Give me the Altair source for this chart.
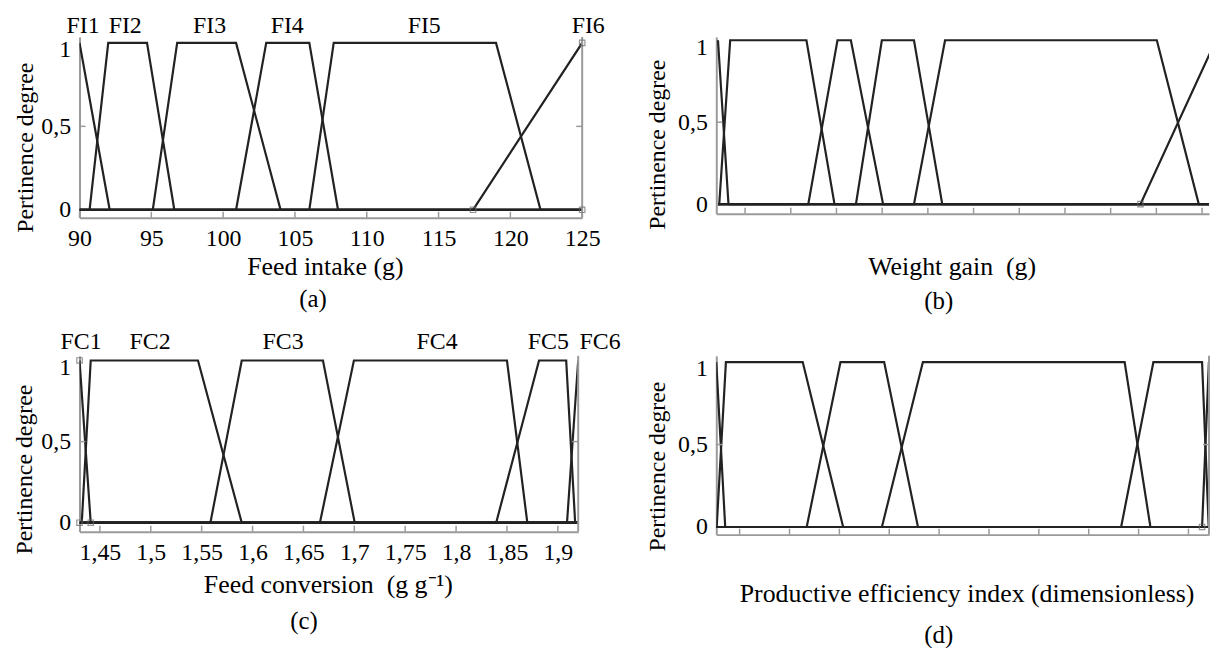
import altair as alt
import pandas as pd

FONT = "Liberation Serif"
LINE = "#222222"
AXIS = "#9a9a9a"

# ---------------- (a) Feed intake (g) ----------------
a_domain = [90, 125]
a_ticks = [90, 95, 100, 105, 110, 115, 120, 125]
a_names = ["FI1", "FI2", "FI3", "FI4", "FI5", "FI6"]
a_label_x = [90.25, 93.18, 99.06, 104.46, 114.0, 125.42]
a_mf = [
    [90.0, 90.0, 90.0, 92.1],
    [90.7, 92.0, 94.7, 96.6],
    [95.1, 96.8, 100.9, 104.0],
    [100.9, 103.0, 106.0, 108.0],
    [106.0, 107.7, 119.0, 122.1],
    [117.4, 125.0, 125.0, 125.0],
]
a_mark_x = [117.4, 125.0, 125.0]
a_mark_y = [0, 0, 1]

# ---------------- (b) Weight gain (g) — unlabeled axis (tick units) ----------------
b_domain = [-0.63, 10.152]
b_range = [-0.593, 10.304]
b_ticks = [0, 1, 2, 3, 4, 5, 6, 7, 8, 9, 10]
b_mf = [
    [-0.593, -0.593, -0.593, -0.363],
    [-0.565, -0.326, 1.343, 1.957],
    [1.383, 2.022, 2.315, 3.02],
    [2.426, 2.993, 3.696, 4.315],
    [3.696, 4.376, 9.01, 9.928],
    [8.652, 10.304, 10.304, 10.304],
]
b_mark_x = [8.652]
b_mark_y = [0]

# ---------------- (c) Feed conversion (g g-1) ----------------
c_domain = [1.43, 1.92]
c_ticks = [1.45, 1.5, 1.55, 1.6, 1.65, 1.7, 1.75, 1.8, 1.85, 1.9]
c_names = ["FC1", "FC2", "FC3", "FC4", "FC5", "FC6"]
c_label_x = [1.4315, 1.4993, 1.630, 1.7814, 1.8907, 1.9415]
c_mf = [
    [1.43, 1.43, 1.43, 1.441],
    [1.4322, 1.441, 1.5464, 1.5894],
    [1.5586, 1.5894, 1.6692, 1.7004],
    [1.6662, 1.6996, 1.850, 1.870],
    [1.8394, 1.8815, 1.9082, 1.917],
    [1.909, 1.92, 1.92, 1.92],
]
c_mark_x = [1.43, 1.43, 1.441]
c_mark_y = [1, 0, 0]

# ---------------- (d) Productive efficiency index — unlabeled axis (tick units) ----------------
d_domain = [-0.468, 9.412]
d_range = [-0.468, 9.41]
d_ticks = [0, 1, 2, 3, 4, 5, 6, 7, 8, 9]
d_mf = [
    [-0.468, -0.468, -0.468, -0.289],
    [-0.46, -0.275, 1.265, 2.076],
    [1.345, 2.022, 2.898, 3.576],
    [2.853, 3.675, 7.72, 8.237],
    [7.65, 8.297, 9.273, 9.406],
    [9.273, 9.41, 9.41, 9.41],
]
d_mark_x = [9.273]
d_mark_y = [0]


def mf_points(mfs, lo, hi):
    rows = []
    for i, (p0, p1, p2, p3) in enumerate(mfs):
        pts = [(lo, 0), (p0, 0), (p1, 1), (p2, 1), (p3, 0), (hi, 0)]
        if p1 <= lo:
            pts = pts[2:]
        if p2 >= hi:
            pts = pts[:4]
        for j, (x, y) in enumerate(pts):
            rows.append({"mf": f"m{i}", "o": j, "x": x, "y": y})
    return pd.DataFrame(rows)


def y_axis(tx, ty):
    return alt.Axis(
        values=[0, 0.5, 1],
        labelExpr="replace(format(datum.value, '.1~f'), '.', ',')",
        labelFont=FONT, labelFontSize=24, labelColor="black", labelPadding=9,
        labelOffset={"condition": {"test": "datum.value == 1", "value": 7}, "value": 0},
        ticks=False, tickSize=0, grid=False, domainColor=AXIS, domainWidth=2,
        title="Pertinence degree", titleFont=FONT, titleFontSize=24,
        titleFontWeight="normal", titleColor="black", titleX=tx, titleY=ty,
        titleAngle=270, titleAlign="center", titleBaseline="middle",
    )


def x_axis(title, tx, ty, values=None, expr=None):
    kw = dict(
        ticks=False, tickSize=0, grid=False, domainColor=AXIS, domainWidth=2,
        title=title, titleFont=FONT, titleFontSize=26, titleFontWeight="normal",
        titleColor="black", titleX=tx, titleY=ty, titleAlign="center",
        titleBaseline="alphabetic",
    )
    if values is None:
        kw["labels"] = False
    else:
        kw.update(values=values, labelExpr=expr, labelFont=FONT, labelFontSize=24,
                  labelColor="black", labelPadding=9, labelFlush=False,
                  labelOverlap=False)
    return alt.Axis(**kw)


def panel(mfs, rng, xdom, ydom, W, H, xaxis, yaxis, ticks, mark_x, mark_y,
          caption, cap_x, cap_y, names=None, label_x=None, label_y=0,
          right_axis=False):
    xs = alt.Scale(domain=xdom, nice=False, zero=False)
    ys = alt.Scale(domain=ydom, nice=False, zero=False)

    def X():
        return alt.X("x:Q", scale=xs, axis=xaxis)

    def Y():
        return alt.Y("y:Q", scale=ys, axis=yaxis)

    df = mf_points(mfs, rng[0], rng[1])
    layers = []
    layers.append(
        alt.Chart(df).mark_line(color=LINE, strokeWidth=2.2, clip=True).encode(
            x=X(), y=Y(), detail="mf:N", order="o:Q",
        )
    )
    layers.append(
        alt.Chart(pd.DataFrame({"x": ticks})).mark_rule(color=AXIS, strokeWidth=1.5).encode(
            x=X(), y=alt.value(H), y2=alt.value(H - 6)
        )
    )
    layers.append(
        alt.Chart(pd.DataFrame({"y": [0.5]})).mark_rule(color=AXIS, strokeWidth=1.5).encode(
            y=Y(), x=alt.value(0), x2=alt.value(6)
        )
    )
    if right_axis:
        layers.append(
            alt.Chart(pd.DataFrame({"x": [xdom[1]]})).mark_rule(color=AXIS, strokeWidth=2).encode(
                x=X(), y=alt.value(0), y2=alt.value(H)
            )
        )
        layers.append(
            alt.Chart(pd.DataFrame({"y": [0.5]})).mark_rule(color=AXIS, strokeWidth=1.5).encode(
                y=Y(), x=alt.value(W - 6), x2=alt.value(W)
            )
        )
    layers.append(
        alt.Chart(pd.DataFrame({"x": mark_x, "y": mark_y})).mark_point(
            shape="square", filled=False, size=30, color="#666666", strokeWidth=1.2
        ).encode(x=X(), y=Y())
    )
    if names is not None:
        layers.append(
            alt.Chart(pd.DataFrame({"x": label_x, "t": names})).mark_text(
                font=FONT, fontSize=24, color="black", baseline="middle", align="center"
            ).encode(x=X(), y=alt.value(label_y), text="t:N")
        )
    layers.append(
        alt.Chart(pd.DataFrame({"t": [caption]})).mark_text(
            font=FONT, fontSize=25, color="black", baseline="middle", align="center"
        ).encode(x=alt.value(cap_x), y=alt.value(cap_y), text="t:N")
    )
    return alt.layer(*layers).properties(width=W, height=H)


pa = panel(a_mf, a_domain, a_domain, [-0.0476, 1.0357], 506, 182,
           x_axis("Feed intake (g)", 247, 57, a_ticks, "format(datum.value, 'd')"),
           y_axis(-54, 111), a_ticks, a_mark_x, a_mark_y, "(a)", 235, 264,
           names=a_names, label_x=a_label_x, label_y=-11, right_axis=True)

pb = panel(b_mf, b_range, b_domain, [-0.0588, 1.02], 496, 178,
           x_axis("Weight gain\u00a0 (g)", 237, 61),
           y_axis(-59, 108), b_ticks, b_mark_x, b_mark_y, "(b)", 224, 266)

pc = panel(c_mf, c_domain, c_domain, [-0.0551, 1.0288], 502, 177,
           x_axis("Feed conversion\u00a0 (g g\u207b\u00b9)", 250, 61, c_ticks,
                  "replace(format(datum.value, '.2~f'), '.', ',')"),
           y_axis(-55, 114), c_ticks, c_mark_x, c_mark_y, "(c)", 226, 267,
           names=c_names, label_x=c_label_x, label_y=-14, right_axis=True)

pd_ = panel(d_mf, d_range, d_domain, [-0.0464, 1.038], 496, 180,
            x_axis("Productive efficiency index (dimensionless)", 252, 67),
            y_axis(-59, 111), d_ticks, d_mark_x, d_mark_y, "(d)", 224, 281,
            right_axis=True)

chart = alt.concat(
    pa, pb, pc, pd_, columns=2, spacing={"row": 139, "column": 135}, bounds="flush"
).properties(
    padding={"left": 5, "top": 4, "right": 0, "bottom": 0}
).configure_view(stroke=None)

chart.save("out.html", embed_options={"renderer": "svg", "actions": False})
